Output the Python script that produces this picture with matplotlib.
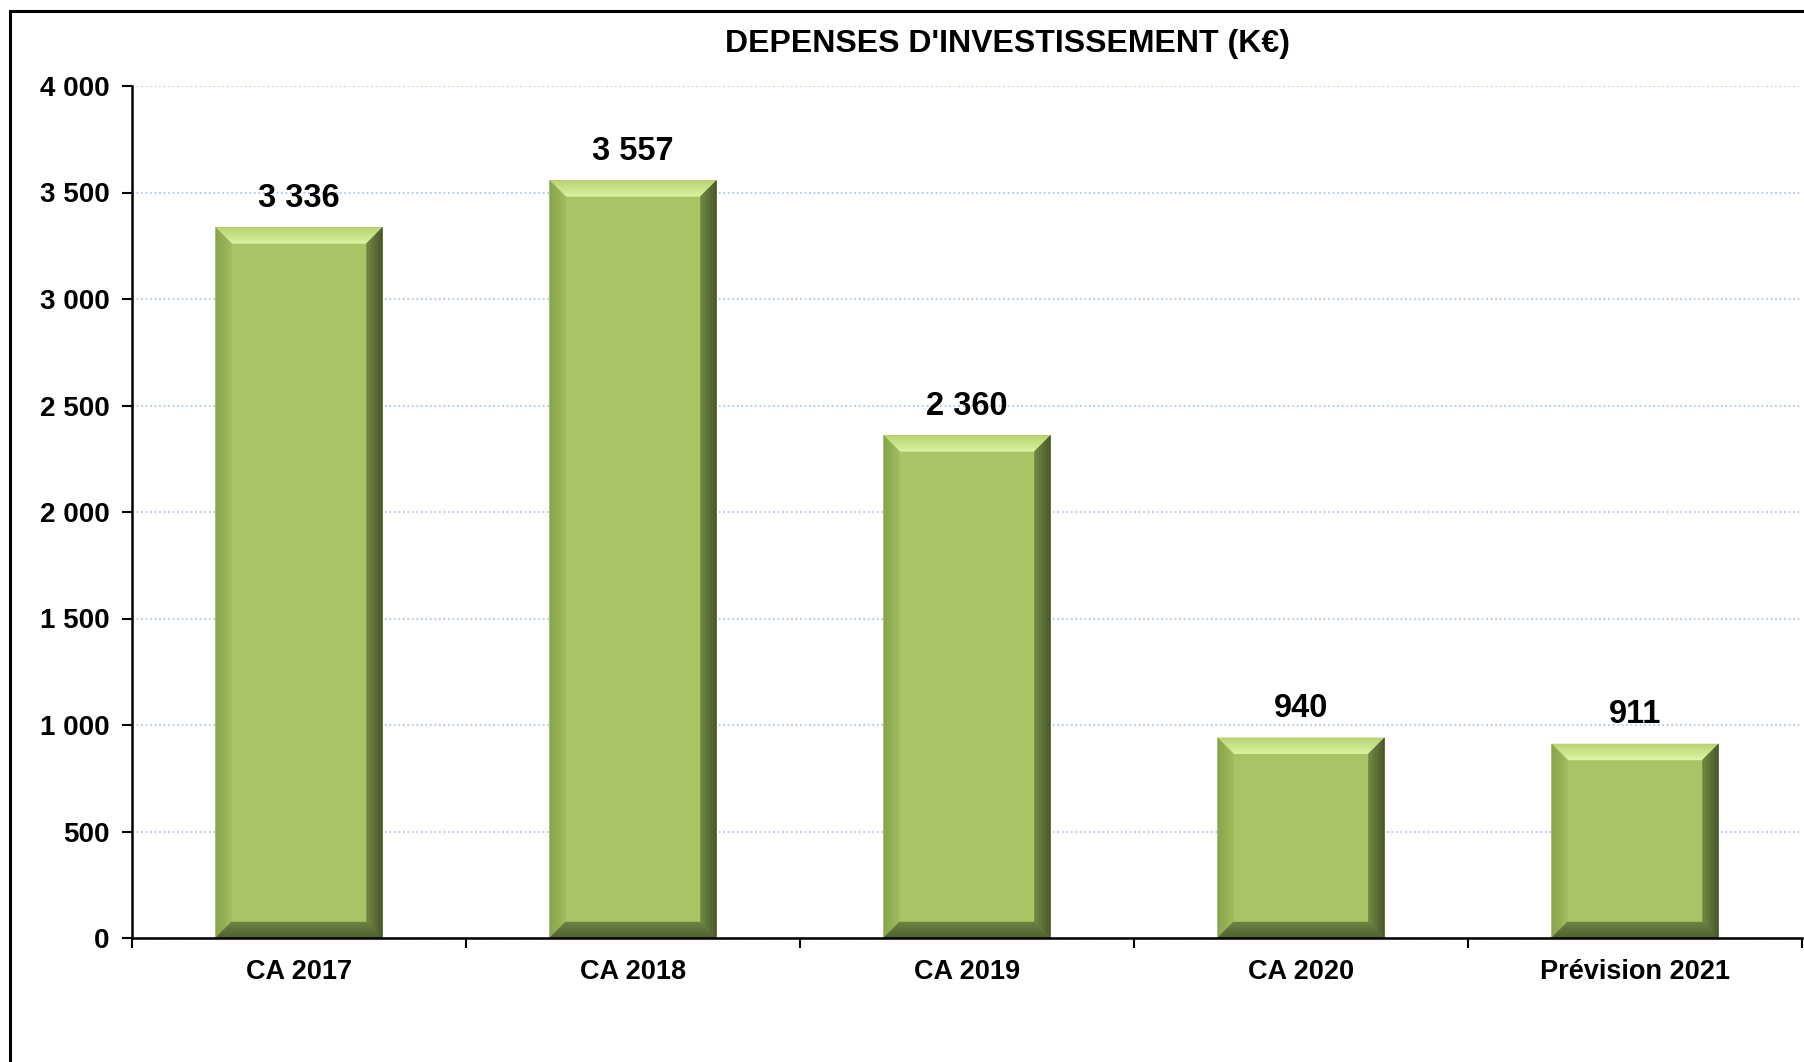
import numpy as np
import matplotlib
matplotlib.use("Agg")
import matplotlib.pyplot as plt
from matplotlib.patches import Polygon, Rectangle
from matplotlib.colors import to_rgb
from matplotlib.ticker import FuncFormatter

# data
categories = ['CA 2017', 'CA 2018', 'CA 2019', 'CA 2020', 'Prévision 2021']
depenses = [3336, 3557, 2360, 940, 911]
title = "DEPENSES D'INVESTISSEMENT (K€)"

plt.rcParams['font.family'] = ['Liberation Sans', 'DejaVu Sans']
plt.rcParams['font.weight'] = 'bold'

W, H, DPI = 1804, 1062, 100
fig = plt.figure(figsize=(W / DPI, H / DPI), dpi=DPI)
ax = fig.add_axes([132 / W, 1 - 938 / H, (1802 - 132) / W, (938 - 86) / H])

face = '#a8c565'
x = np.arange(len(categories))
bars = ax.bar(x, depenses, width=0.5, color=face, zorder=3, linewidth=0)

ax.set_xlim(-0.5, len(categories) - 0.5)
ax.set_ylim(0, 4000)
ax.set_yticks(np.arange(0, 4001, 500))
ax.yaxis.set_major_formatter(FuncFormatter(lambda v, p: f'{int(v):,}'.replace(',', ' ')))
ax.grid(axis='y', color='#b3c8e6', linestyle=(0, (1, 1.5)), linewidth=1.3, zorder=0)

# ticks between categories, labels in the middle
ax.set_xticks(np.arange(-0.5, len(categories), 1.0))
ax.set_xticklabels([])
ax.set_xticks(x, minor=True)
ax.set_xticklabels(categories, minor=True)
ax.tick_params(axis='x', which='major', length=7, width=1.5, direction='out')
ax.tick_params(axis='x', which='minor', length=0, pad=15, labelsize=19.5)
ax.tick_params(axis='y', length=7, width=1.5, pad=9, labelsize=20)
for lab in ax.get_xticklabels(minor=True) + ax.get_yticklabels():
    lab.set_fontweight('bold')

for s in ['top', 'right']:
    ax.spines[s].set_visible(False)
for s in ['left', 'bottom']:
    ax.spines[s].set_linewidth(1.8)
    ax.spines[s].set_zorder(5)


# bevel effect, built from each bar's own box
def mix(c1, c2, t):
    a, b = np.array(to_rgb(c1)), np.array(to_rgb(c2))
    return a + (b - a) * t

sides = {
    'top': [('#b9d474', '#cbe68a'), ('#cbe68a', '#dcf6a4')],
    'left': [('#86a449', '#9dbb5b')],
    'right': [('#47562a', '#6c8242')],
    'bottom': [('#4f6231', '#6a8040')],
}
bevel = 16
nstep = 8
inv = ax.transData.inverted()

for rect in bars:
    (x0, y0), (x1, y1) = ax.transData.transform(
        [(rect.get_x(), 0), (rect.get_x() + rect.get_width(), rect.get_height())])
    for side, segs in sides.items():
        total = len(segs) * nstep
        k = 0
        for c_out, c_in in segs:
            for i in range(nstep):
                d1 = bevel * k / total
                d2 = bevel * (k + 1) / total
                col = mix(c_out, c_in, i / (nstep - 1))
                k += 1
                if side == 'top':
                    pts = [(x0 + d1, y1 - d1), (x1 - d1, y1 - d1), (x1 - d2, y1 - d2), (x0 + d2, y1 - d2)]
                elif side == 'bottom':
                    pts = [(x0 + d1, y0 + d1), (x1 - d1, y0 + d1), (x1 - d2, y0 + d2), (x0 + d2, y0 + d2)]
                elif side == 'left':
                    pts = [(x0 + d1, y0 + d1), (x0 + d1, y1 - d1), (x0 + d2, y1 - d2), (x0 + d2, y0 + d2)]
                else:
                    pts = [(x1 - d1, y0 + d1), (x1 - d1, y1 - d1), (x1 - d2, y1 - d2), (x1 - d2, y0 + d2)]
                ax.add_patch(Polygon(inv.transform(pts), closed=True, facecolor=col,
                                     edgecolor=col, linewidth=0.3, zorder=4))

for xi, v in zip(x, depenses):
    ax.annotate(f'{v:,}'.replace(',', ' '), (xi, v), xytext=(0, 21), textcoords='offset points',
                ha='center', va='center', fontsize=23.5, fontweight='bold')

fig.text(1008 / W, 1 - 44 / H, title, ha='center', va='center', fontsize=23, fontweight='bold')

# outer chart frame (cut by the image edge on the right and bottom)
fig.add_artist(Rectangle((10 / W, -0.1), 1.2, 1 - 11 / H + 0.1, transform=fig.transFigure,
                         fill=False, edgecolor='black', linewidth=2.2))

fig.savefig('out.png', dpi=DPI)
